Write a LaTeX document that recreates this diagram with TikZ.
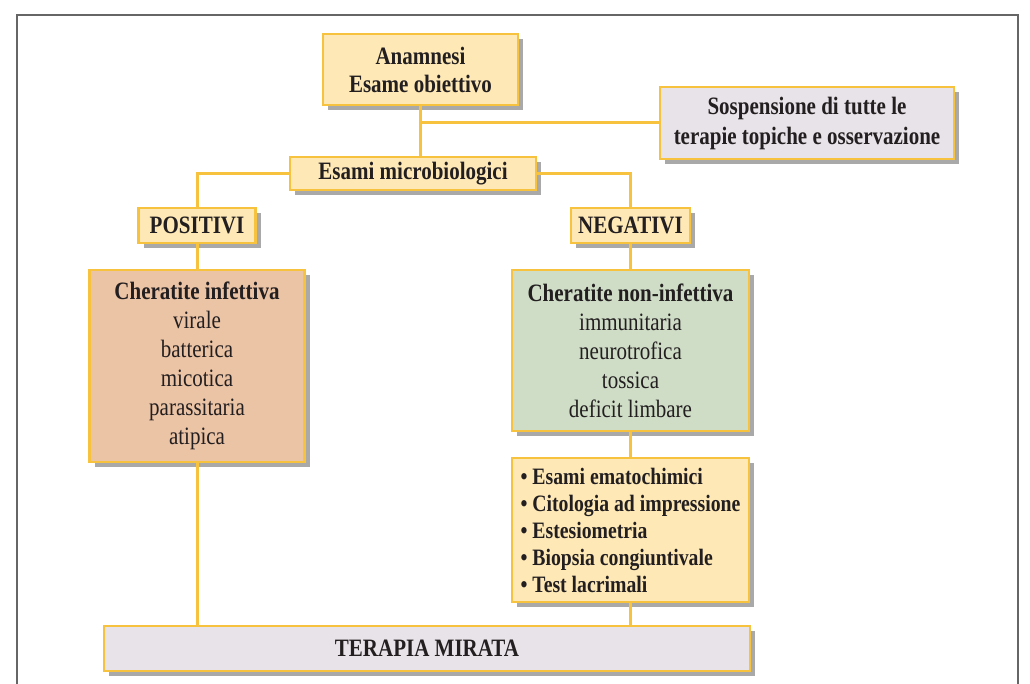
\documentclass[tikz,border=0pt]{standalone}
\usepackage{fontspec}
\setmainfont{Liberation Serif}[FakeStretch=0.84]
\usetikzlibrary{shadows}
\definecolor{bord}{HTML}{F7C33E}
\definecolor{yel}{HTML}{FDE8B6}
\definecolor{gry}{HTML}{E7E3E8}
\definecolor{peach}{HTML}{EBC3A5}
\definecolor{grn}{HTML}{CFDDC7}
\definecolor{ink}{HTML}{231F20}
\tikzset{
 box/.style={draw=bord, line width=2.5pt, inner sep=0pt,
   drop shadow={shadow xshift=5pt, shadow yshift=-5pt, fill=black!75, opacity=0.45},
   text=ink, align=center, font=\fontsize{25}{29}\selectfont},
 conn/.style={draw=bord, line width=3pt},
 frame/.style={draw=black!60, line width=2pt},
}
\begin{document}
\begin{tikzpicture}[x=1pt,y=-1pt]
\path[use as bounding box, clip] (0,0) rectangle (1030,684);
\draw[frame] (17,700) -- (17,15) -- (1018,15) -- (1018,700);

\node[box, fill=yel, minimum width=195pt, minimum height=71pt, font=\fontsize{25}{28}\selectfont] (anam) at (420.5,69.5)
  {\bfseries Anamnesi\\\bfseries Esame obiettivo};
\node[box, fill=gry, minimum width=294pt, minimum height=72pt, font=\fontsize{25}{30}\selectfont] (sosp) at (807,123)
  {\bfseries Sospensione di tutte le\\\bfseries terapie topiche e osservazione};
\node[box, fill=yel, minimum width=246pt, minimum height=33pt] (micro) at (413,173.5)
  {\bfseries Esami microbiologici};
\node[box, fill=yel, minimum width=117pt, minimum height=35pt] (pos) at (197,225.5)
  {\bfseries POSITIVI};
\node[box, fill=yel, minimum width=119pt, minimum height=35pt] (neg) at (630.5,225.5)
  {\bfseries NEGATIVI};
\node[box, fill=peach, minimum width=215pt, minimum height=192pt] (inf) at (197,366)
  {\bfseries Cheratite infettiva\\virale\\batterica\\micotica\\parassitaria\\atipica};
\node[box, fill=grn, minimum width=237pt, minimum height=161pt] (non) at (630.5,350.5)
  {\bfseries Cheratite non-infettiva\\immunitaria\\neurotrofica\\tossica\\deficit limbare};
\node[box, fill=yel, minimum width=237pt, minimum height=144pt, align=left,
  font=\fontsize{23.5}{27}\selectfont\bfseries] (list) at (630.5,530)
  {• Esami ematochimici\\• Citologia ad impressione\\• Estesiometria\\• Biopsia congiuntivale\\• Test lacrimali};
\node[box, fill=gry, minimum width=646pt, minimum height=45pt] (ter) at (427,648.5)
  {\bfseries TERAPIA MIRATA};

\draw[conn] (anam.south) -- (anam.south |- micro.north);
\draw[conn] (anam.south |- sosp.west) -- (sosp.west);
\draw[conn] (micro.west) -| (pos.north);
\draw[conn] (micro.east) -| (neg.north);
\draw[conn] (pos.south) -- (pos.south |- inf.north);
\draw[conn] (neg.south) -- (non.north);
\draw[conn] (inf.south) -- (inf.south |- ter.north);
\draw[conn] (non.south) -- (list.north);
\draw[conn] (list.south) -- (list.south |- ter.north);
\end{tikzpicture}
\end{document}
